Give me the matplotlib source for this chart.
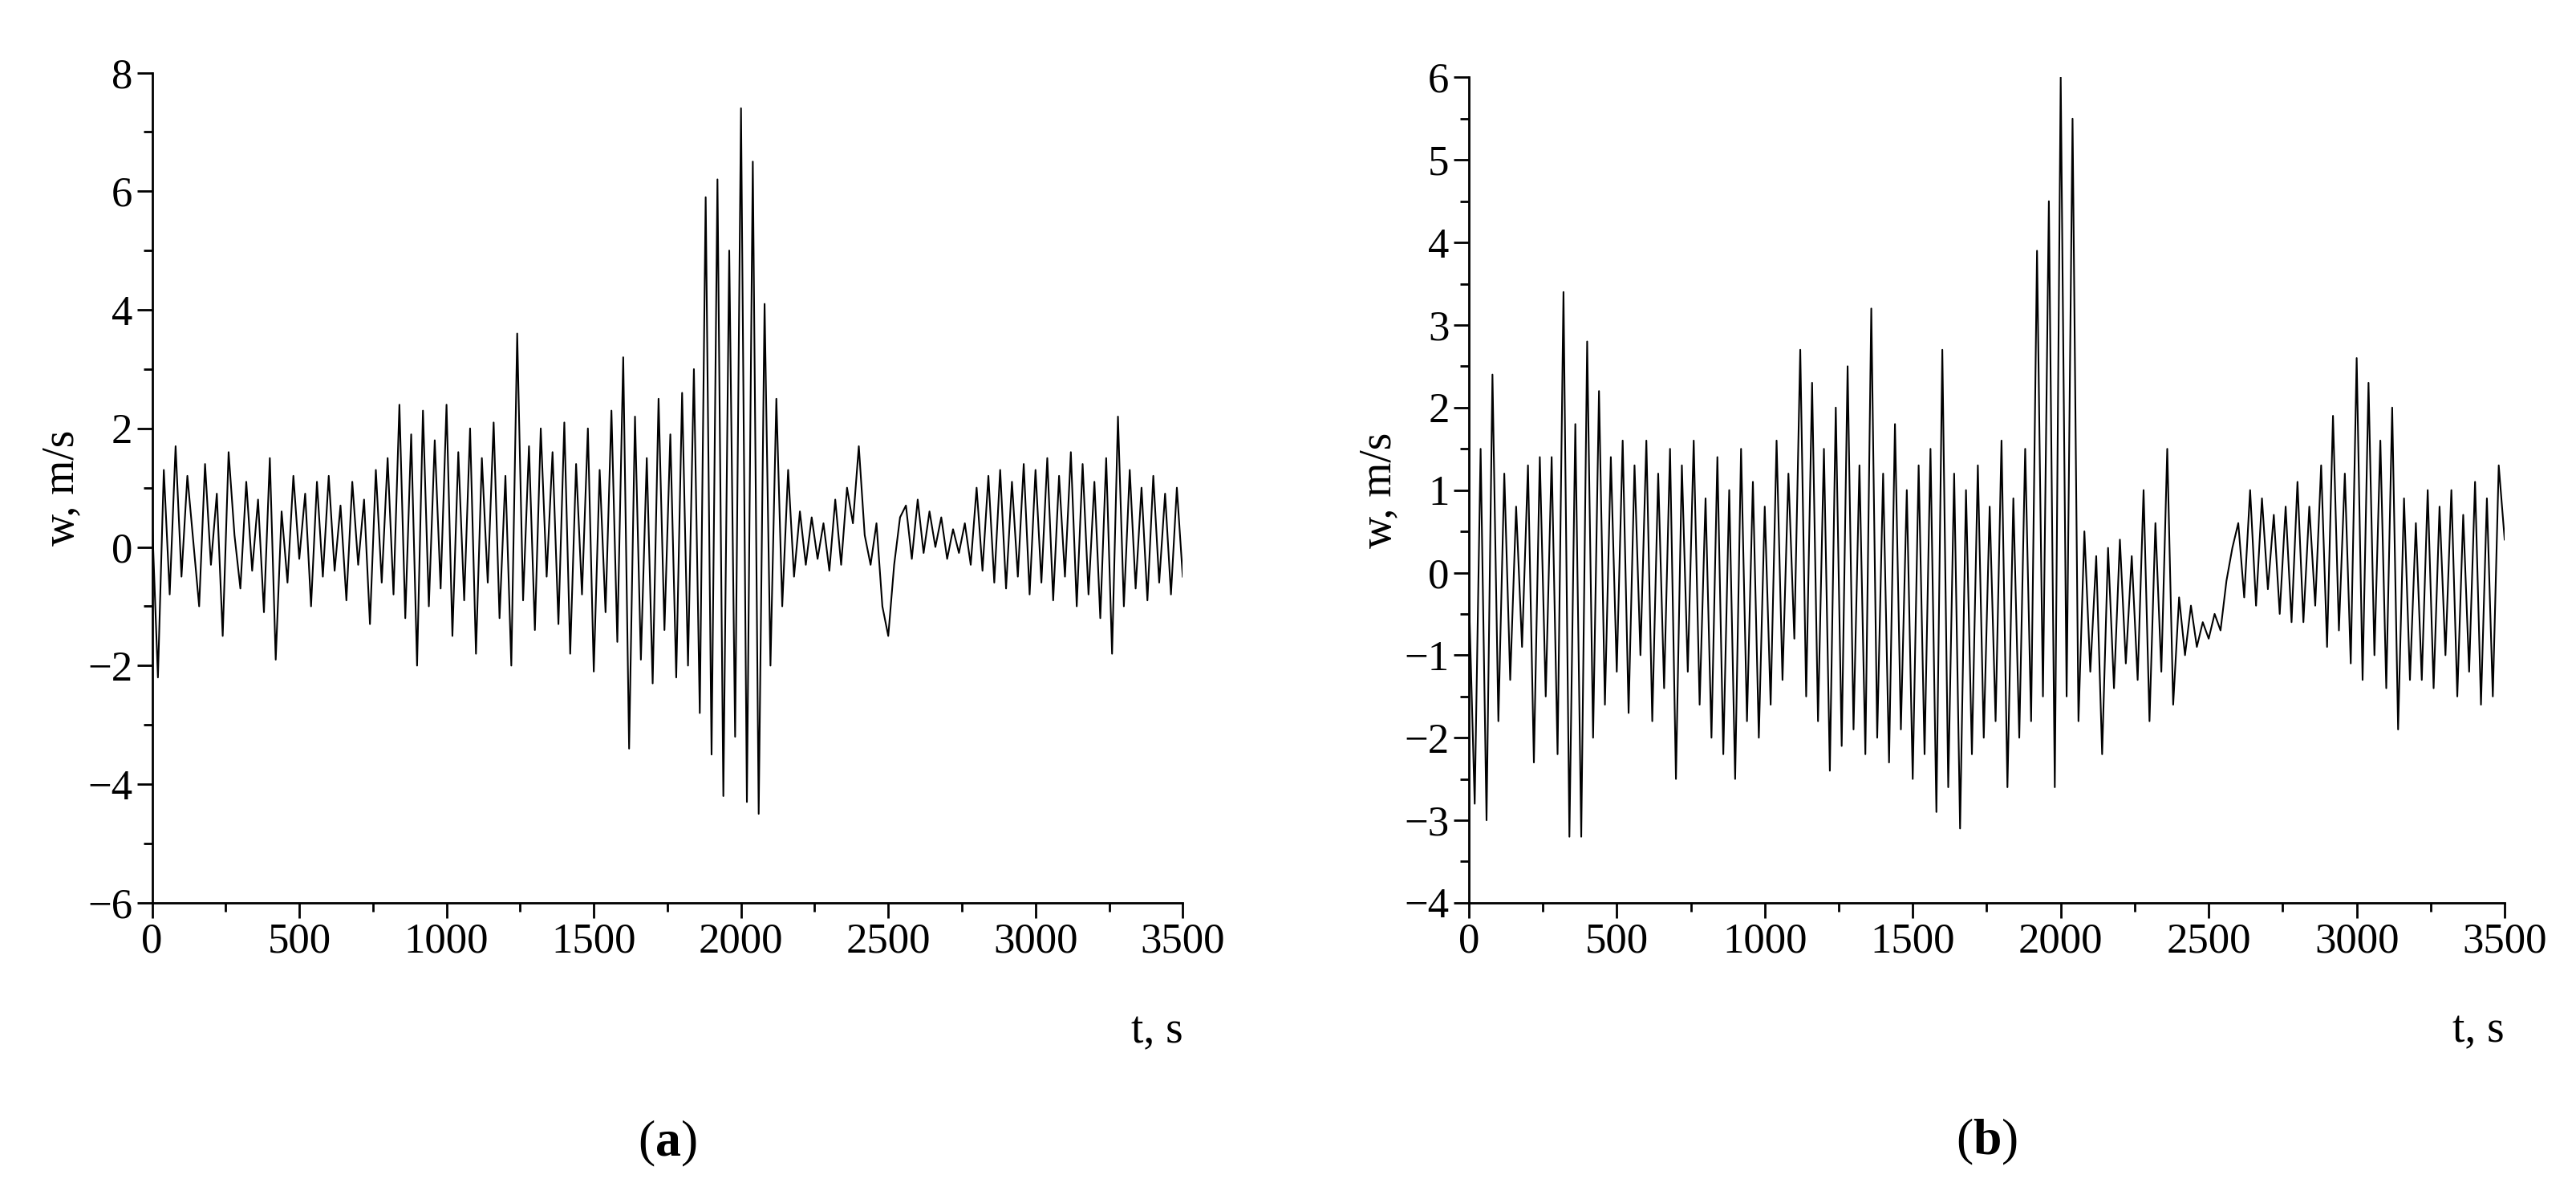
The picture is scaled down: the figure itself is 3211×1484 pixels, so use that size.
import numpy as np
import matplotlib
matplotlib.use("Agg")
import matplotlib.pyplot as plt
from matplotlib.ticker import MultipleLocator

plt.rcParams['font.family'] = ['Liberation Serif', 'DejaVu Serif']
plt.rcParams['mathtext.fontset'] = 'custom'
plt.rcParams['mathtext.rm'] = 'Liberation Serif'
plt.rcParams['mathtext.bf'] = 'Liberation Serif:bold'

t = list(range(0, 3501, 20))
w_a = [0.5,-2.2,1.3,-0.8,1.7,-0.5,1.2,0.1,-1.0,1.4,
       -0.3,0.9,-1.5,1.6,0.2,-0.7,1.1,-0.4,0.8,-1.1,
       1.5,-1.9,0.6,-0.6,1.2,-0.2,0.9,-1.0,1.1,-0.5,
       1.2,-0.4,0.7,-0.9,1.1,-0.3,0.8,-1.3,1.3,-0.6,
       1.5,-0.8,2.4,-1.2,1.9,-2.0,2.3,-1.0,1.8,-0.7,
       2.4,-1.5,1.6,-0.9,2.0,-1.8,1.5,-0.6,2.1,-1.2,
       1.2,-2.0,3.6,-0.9,1.7,-1.4,2.0,-0.5,1.6,-1.3,
       2.1,-1.8,1.4,-0.8,2.0,-2.1,1.3,-1.1,2.3,-1.6,
       3.2,-3.4,2.2,-1.9,1.5,-2.3,2.5,-1.4,1.9,-2.2,
       2.6,-2.0,3.0,-2.8,5.9,-3.5,6.2,-4.2,5.0,-3.2,
       7.4,-4.3,6.5,-4.5,4.1,-2.0,2.5,-1.0,1.3,-0.5,
       0.6,-0.3,0.5,-0.2,0.4,-0.4,0.8,-0.3,1.0,0.4,
       1.7,0.2,-0.3,0.4,-1.0,-1.5,-0.3,0.5,0.7,-0.2,
       0.8,-0.1,0.6,0.0,0.5,-0.2,0.3,-0.1,0.4,-0.3,
       1.0,-0.4,1.2,-0.6,1.3,-0.7,1.1,-0.5,1.4,-0.8,
       1.3,-0.6,1.5,-0.9,1.2,-0.5,1.6,-1.0,1.4,-0.8,
       1.1,-1.2,1.5,-1.8,2.2,-1.0,1.3,-0.7,1.0,-0.9,
       1.2,-0.6,0.9,-0.8,1.0,-0.5]
w_b = [-0.2,-2.8,1.5,-3.0,2.4,-1.8,1.2,-1.3,0.8,-0.9,
       1.3,-2.3,1.4,-1.5,1.4,-2.2,3.4,-3.2,1.8,-3.2,
       2.8,-2.0,2.2,-1.6,1.4,-1.2,1.6,-1.7,1.3,-1.0,
       1.6,-1.8,1.2,-1.4,1.5,-2.5,1.3,-1.2,1.6,-1.6,
       0.9,-2.0,1.4,-2.2,1.0,-2.5,1.5,-1.8,1.1,-2.0,
       0.8,-1.6,1.6,-1.3,1.2,-0.8,2.7,-1.5,2.3,-1.8,
       1.5,-2.4,2.0,-2.1,2.5,-1.9,1.3,-2.2,3.2,-2.0,
       1.2,-2.3,1.8,-1.9,1.0,-2.5,1.3,-2.2,1.5,-2.9,
       2.7,-2.6,1.2,-3.1,1.0,-2.2,1.3,-2.0,0.8,-1.8,
       1.6,-2.6,0.9,-2.0,1.5,-1.8,3.9,-1.5,4.5,-2.6,
       6.0,-1.5,5.5,-1.8,0.5,-1.2,0.2,-2.2,0.3,-1.4,
       0.4,-1.1,0.2,-1.3,1.0,-1.8,0.6,-1.2,1.5,-1.6,
       -0.3,-1.0,-0.4,-0.9,-0.6,-0.8,-0.5,-0.7,-0.1,0.3,
       0.6,-0.3,1.0,-0.4,0.9,-0.2,0.7,-0.5,0.8,-0.6,
       1.1,-0.6,0.8,-0.4,1.3,-0.9,1.9,-0.7,1.2,-1.1,
       2.6,-1.3,2.3,-1.0,1.6,-1.4,2.0,-1.9,0.9,-1.3,
       0.6,-1.3,1.0,-1.4,0.8,-1.0,1.0,-1.5,0.7,-1.2,
       1.1,-1.6,0.9,-1.5,1.3,0.4]

fig = plt.figure(figsize=(32.12, 14.84), dpi=100)
specs = [
    ([0.059, 0.242, 0.400, 0.697], w_a, (-6, 8), 2, 1, 'a'),
    ([0.570, 0.242, 0.402, 0.693], w_b, (-4, 6), 1, 0.5, 'b'),
]
for rect, w, ylim, ymaj, ymin, lab in specs:
    ax = fig.add_axes(rect)
    ax.plot(t, w, color='black', lw=1.5)
    ax.set_xlim(0, 3500)
    ax.set_ylim(*ylim)
    ax.spines['top'].set_visible(False)
    ax.spines['right'].set_visible(False)
    for s in ('left', 'bottom'):
        ax.spines[s].set_linewidth(2)
    ax.xaxis.set_major_locator(MultipleLocator(500))
    ax.xaxis.set_minor_locator(MultipleLocator(250))
    ax.yaxis.set_major_locator(MultipleLocator(ymaj))
    ax.yaxis.set_minor_locator(MultipleLocator(ymin))
    ax.tick_params(which='major', length=14, width=2, labelsize=38, direction='out')
    ax.tick_params(which='minor', length=8, width=2, direction='out')
    ax.set_ylabel('w, m/s', fontsize=40)
    ax.text(1.0, -0.13, 't, s', transform=ax.transAxes, fontsize=40, ha='right', va='top')
    ax.text(0.5, -0.26, '($\\mathbf{' + lab + '}$)', transform=ax.transAxes,
            fontsize=46, ha='center', va='top')
fig.savefig('out.png', dpi=100)
